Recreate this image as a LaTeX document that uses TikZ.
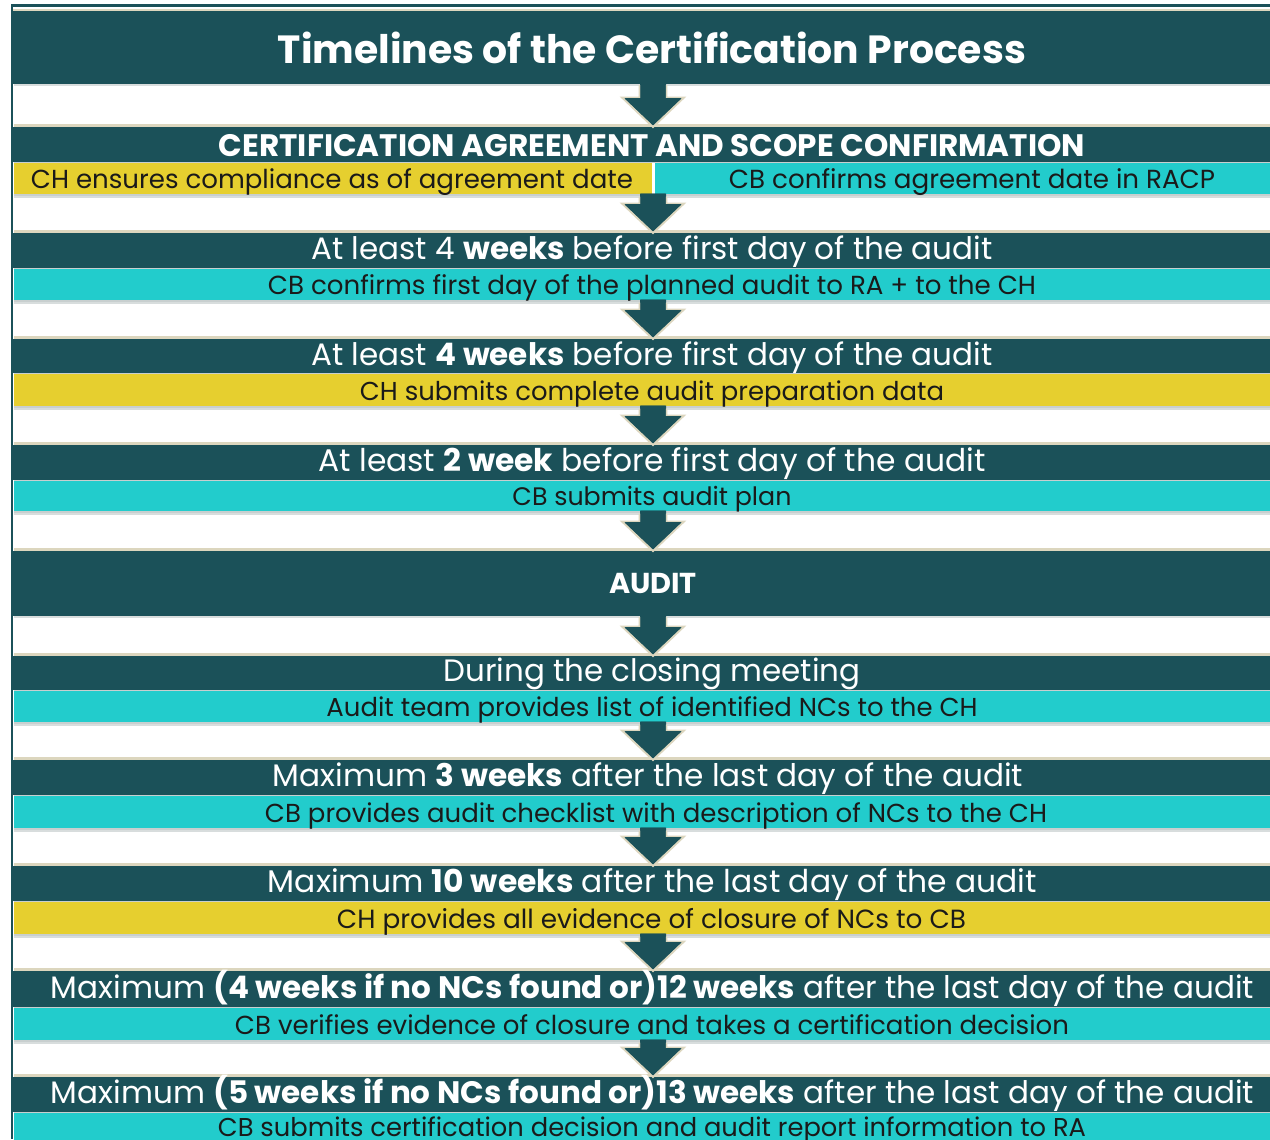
\documentclass[tikz,border=0pt]{standalone}
\usepackage{fontspec}
\setmainfont{Poppins}
\usepackage{graphicx}
\newdimen\mypx \mypx=0.75pt
\newcommand\fw[2]{\resizebox{#1\mypx}{!}{#2}}
\definecolor{dteal}{HTML}{1B5159}
\definecolor{cya}{HTML}{22CCCC}
\definecolor{yel}{HTML}{E6CF2F}
\definecolor{beig}{HTML}{DCD6BE}
\definecolor{gry}{HTML}{C8CFCF}
\definecolor{txt}{HTML}{1A1A1A}
\tikzset{
  wt/.style={text=white, anchor=base, inner sep=0pt},
  bk/.style={text=txt, anchor=base, inner sep=0pt},
}
% dark band
\newcommand\dband[2]{\fill[dteal] (12,#1) rectangle (1270,#2);}
% colour row
\newcommand\crow[3]{\fill[#3] (14,#1) rectangle (1270,#2);
  \fill[gry] (14,#1-1.5) rectangle (1270,#1);
  \fill[gry] (14,#2) rectangle (1270,#2+1.5);}
% white gap with shadow lines
\newcommand\gap[2]{\fill[gry!70!white] (14,#1) rectangle (1270,#1+2);
  \fill[beig] (14,#2-3) rectangle (1270,#2);}
% block arrow between two bands
\newcommand\garrow[3]{%
  \coordinate (#1t) at (653,#2);
  \coordinate (#1b) at (653,#3);
  \fill[dteal] (640,#2-2) -- (640,#3-29) -- (623,#3-29) -- (653,#3-1) -- (683,#3-29) -- (666,#3-29) -- (666,#2-2) -- cycle;
  \draw[beig, line width=1.4pt, line join=miter] (639.5,#2+1) -- (639.5,#3-29.5) -- (622,#3-29.5) -- (653,#3) -- (684,#3-29.5) -- (666.5,#3-29.5) -- (666.5,#2+1);
  \fill[dteal] (640.5,#2-2) -- (640.5,#3-29) -- (624.5,#3-29) -- (653,#3-2.5) -- (681.5,#3-29) -- (665.5,#3-29) -- (665.5,#2-2) -- cycle;
}
\begin{document}
\begin{tikzpicture}[x=0.75pt,y=-0.75pt]
\useasboundingbox (0,0) rectangle (1270,1139);
\fill[white] (0,0) rectangle (1270,1139);
% outer border
\fill[dteal] (11,4) rectangle (1270,7);
\fill[dteal] (11,4) rectangle (13,1139);
\fill[beig] (13,8.5) rectangle (1270,11);

% title
\dband{11}{84}
\gap{84}{127}
% section 1
\dband{127}{162}
\fill[yel] (14,163) rectangle (652,194);
\fill[cya] (654.5,163) rectangle (1270,194);
\fill[gry] (14,161.5) rectangle (1270,163);
\fill[gry] (14,194) rectangle (1270,195.5);
\gap{195.5}{233}
% section 2
\dband{233}{268}
\crow{269}{300}{cya}
\gap{301.5}{339}
% section 3
\dband{339}{373}
\crow{374}{406}{yel}
\gap{407.5}{445}
% section 4
\dband{445}{480}
\crow{481}{511}{cya}
\gap{512.5}{551}
% audit
\dband{551}{616}
\gap{616}{656}
% section 6
\dband{656}{690}
\crow{691}{722}{cya}
\gap{723.5}{760}
% section 7
\dband{760}{795}
\crow{796}{828}{cya}
\gap{829.5}{866}
% section 8
\dband{866}{901}
\crow{902}{934}{yel}
\gap{935.5}{971}
% section 9
\dband{971}{1007}
\crow{1008}{1040}{cya}
\gap{1041.5}{1077}
% section 10
\dband{1077}{1112}
\crow{1113}{1142}{cya}

% arrows
\garrow{a1}{84}{127}
\garrow{a2}{195.5}{233}
\garrow{a3}{301.5}{339}
\garrow{a4}{407.5}{445}
\garrow{a5}{512.5}{551}
\garrow{a6}{616}{656}
\garrow{a7}{723.5}{760}
\garrow{a8}{829.5}{866}
\garrow{a9}{935.5}{971}
\garrow{a10}{1041.5}{1077}

% texts
\node[wt] (title) at (652,63) {\fw{748}{\bfseries Timelines of the Certification Process}};
\node[wt] (s1) at (652,156) {\fw{866}{\bfseries CERTIFICATION AGREEMENT AND SCOPE CONFIRMATION}};
\node[bk] (s1a) at (332,188) {\fw{602}{CH ensures compliance as of agreement date}};
\node[bk] (s1b) at (972,188) {\fw{486}{CB confirms agreement date in RACP}};
\node[wt] (s2) at (652,259) {\fw{681}{At least 4 \textbf{weeks} before first day of the audit}};
\node[bk] (s2a) at (652,294) {\fw{768}{CB confirms first day of the planned audit to RA + to the CH}};
\node[wt] (s3) at (652,365) {\fw{681}{At least \textbf{4 weeks} before first day of the audit}};
\node[bk] (s3a) at (652,400) {\fw{584}{CH submits complete audit preparation data}};
\node[wt] (s4) at (652,471) {\fw{667}{At least \textbf{2 week} before first day of the audit}};
\node[bk] (s4a) at (652,505) {\fw{279}{CB submits audit plan}};
\node[wt] (s5) at (653,593) {\fw{88}{\bfseries AUDIT}};
\node[wt] (s6) at (652,681) {\fw{417}{During the closing meeting}};
\node[bk] (s6a) at (652,716) {\fw{651}{Audit team provides list of identified NCs to the CH}};
\node[wt] (s7) at (648,786) {\fw{750}{Maximum \textbf{3 weeks} after the last day of the audit}};
\node[bk] (s7a) at (656,822) {\fw{782}{CB provides audit checklist with description of NCs to the CH}};
\node[wt] (s8) at (652.5,892) {\fw{769}{Maximum \textbf{10 weeks} after the last day of the audit}};
\node[bk] (s8a) at (651.5,928) {\fw{629}{CH provides all evidence of closure of NCs to CB}};
\node[wt] (s9) at (652.5,998) {\fw{1203}{Maximum \textbf{(4 weeks if no NCs found or)12 weeks} after the last day of the audit}};
\node[bk] (s9a) at (652,1034) {\fw{834}{CB verifies evidence of closure and takes a certification decision}};
\node[wt] (s10) at (652.5,1103) {\fw{1203}{Maximum \textbf{(5 weeks if no NCs found or)13 weeks} after the last day of the audit}};
\node[bk] (s10a) at (652,1136) {\fw{868}{CB submits certification decision and audit report information to RA}};
\end{tikzpicture}
\end{document}
